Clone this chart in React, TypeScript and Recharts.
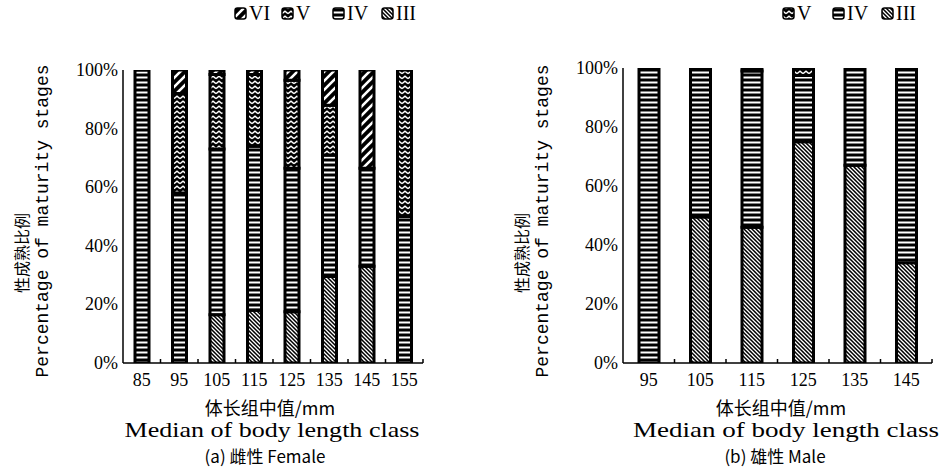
import React from 'react';
import { BarChart, Bar, XAxis, YAxis } from 'recharts';

// ---------- data ----------
const femaleLengths = ['85', '95', '105', '115', '125', '135', '145', '155'];
const femaleStageIII = [0, 0, 16.5, 18, 17.5, 29.5, 33, 0];
const femaleStageIV = [100, 58, 56.5, 56, 49, 41.5, 33.5, 50];
const femaleStageV = [0, 34, 25.5, 24.5, 30, 17, 0, 50];
const femaleStageVI = [0, 8, 1.5, 1.5, 3.5, 12, 33.5, 0];

const maleLengths = ['95', '105', '115', '125', '135', '145'];
const maleStageIII = [0, 49.5, 46, 75, 67, 34];
const maleStageIV = [100, 50.5, 53, 22.5, 33, 66];
const maleStageV = [0, 0, 1, 2.5, 0, 0];

const percentTicks = [0, 20, 40, 60, 80, 100];
const femaleLegend = ['VI', 'V', 'IV', 'III'];
const maleLegend = ['V', 'IV', 'III'];
const femaleStages = ['III', 'IV', 'V', 'VI'];
const maleStages = ['III', 'IV', 'V'];

const femaleData = femaleLengths.map((len, i) => ({
  len,
  III: femaleStageIII[i],
  IV: femaleStageIV[i],
  V: femaleStageV[i],
  VI: femaleStageVI[i],
}));
const maleData = maleLengths.map((len, i) => ({
  len,
  III: maleStageIII[i],
  IV: maleStageIV[i],
  V: maleStageV[i],
}));

const patternId: Record<string, string> = {
  III: 'pat-iii',
  IV: 'pat-iv',
  V: 'pat-v',
  VI: 'pat-vi',
};

const MONO = '"Liberation Mono", "DejaVu Sans Mono", monospace';
const SERIF = '"Liberation Serif", "DejaVu Serif", serif';
const CJK = '"Noto Sans CJK SC", sans-serif';

function Patterns() {
  return (
    <svg width={0} height={0} style={{ position: 'absolute', left: 0, top: 0 }}>
      <defs>
        <pattern id="pat-iii" patternUnits="userSpaceOnUse" width={4} height={4}>
          <rect width={4} height={4} fill="#000" />
          <path d="M-1,-1 L5,5 M-1,3 L1,5 M3,-1 L5,1" stroke="#fff" strokeWidth={1.3} />
        </pattern>
        <pattern id="pat-iv" patternUnits="userSpaceOnUse" width={6} height={5}>
          <rect width={6} height={5} fill="#000" />
          <rect y={1.5} width={6} height={2} fill="#fff" />
        </pattern>
        <pattern id="pat-v" patternUnits="userSpaceOnUse" width={6} height={5}>
          <rect width={6} height={5} fill="#000" />
          <path d="M0,3.6 L3,1.2 L6,3.6" stroke="#fff" strokeWidth={1.4} fill="none" />
        </pattern>
        <pattern id="pat-vi" patternUnits="userSpaceOnUse" width={9} height={9}>
          <rect width={9} height={9} fill="#000" />
          <path d="M-2,11 L11,-2 M-2,2 L2,-2 M7,11 L11,7" stroke="#fff" strokeWidth={2.6} />
        </pattern>
      </defs>
    </svg>
  );
}

const XTick = (props: any) => {
  const { x, y, payload } = props;
  const half = payload && payload.offset ? payload.offset : 0;
  return (
    <g>
      <line x1={x + half} x2={x + half} y1={y} y2={y - 4} stroke="#000" strokeWidth={1.5} />
      <text x={x} y={y + 23} textAnchor="middle" fontFamily={SERIF} fontSize={18} fill="#000">
        {payload.value}
      </text>
    </g>
  );
};

const YTick = (props: any) => {
  const { x, y, payload } = props;
  return (
    <text x={x} y={y + 6} textAnchor="end" fontFamily={SERIF} fontSize={18} fill="#000">
      {payload.value}%
    </text>
  );
};

function StageChart(props: {
  data: any[];
  stages: string[];
  width: number;
  height: number;
  top: number;
  right: number;
  yWidth: number;
  barSize: number;
}) {
  const { data, stages, width, height, top, right, yWidth, barSize } = props;
  return (
    <BarChart
      width={width}
      height={height}
      data={data}
      margin={{ top, right, bottom: 80, left: 0 }}
      barCategoryGap={0}
    >
      <XAxis
        dataKey="len"
        height={30}
        tickLine={false}
        tickSize={0}
        tickMargin={0}
        axisLine={{ stroke: '#000', strokeWidth: 1.5 }}
        tick={<XTick />}
        interval={0}
      />
      <YAxis
        width={yWidth}
        domain={[0, 100]}
        ticks={percentTicks}
        tickLine={false}
        tickSize={0}
        tickMargin={5}
        axisLine={{ stroke: '#000', strokeWidth: 1.5 }}
        tick={<YTick />}
        allowDataOverflow
      />
      {stages.map((s) => (
        <Bar
          key={s}
          dataKey={s}
          stackId="a"
          barSize={barSize}
          fill={`url(#${patternId[s]})`}
          stroke="#000"
          strokeWidth={3}
          isAnimationActive={false}
        />
      ))}
    </BarChart>
  );
}

function LegendItems({ items, xs, y }: { items: string[]; xs: number[]; y: number }) {
  return (
    <g>
      {items.map((s, i) => (
        <g key={s}>
          <rect
            x={xs[i]}
            y={y - 6}
            width={11}
            height={11}
            rx={2.5}
            fill={`url(#${patternId[s]})`}
            stroke="#000"
            strokeWidth={1.5}
          />
          <text x={xs[i] + 14} y={y + 6} fontFamily={SERIF} fontSize={20} fill="#000">
            {s}
          </text>
        </g>
      ))}
    </g>
  );
}

function Titles() {
  return (
    <svg
      width={946}
      height={473}
      style={{ position: 'absolute', left: 0, top: 0, pointerEvents: 'none' }}
    >
      <LegendItems items={femaleLegend} xs={[235, 282, 333, 382]} y={14} />
      <LegendItems items={maleLegend} xs={[783, 833, 882]} y={14} />

      {[0, 500].map((dx, k) => (
        <g key={k}>
          <text
            transform={`translate(${21 + dx},253) rotate(-90)`}
            textAnchor="middle"
            dominantBaseline="central"
            fontFamily={CJK}
            fontSize={16}
            fill="#000"
          >
            性成熟比例
          </text>
          <text
            transform={`translate(${43 + dx},221) rotate(-90)`}
            textAnchor="middle"
            dominantBaseline="central"
            fontFamily={MONO}
            fontSize={18}
            textLength={313}
            lengthAdjust="spacingAndGlyphs"
            fill="#000"
          >
            Percentage of maturity stages
          </text>
        </g>
      ))}

      <text x={270} y={415} textAnchor="middle" fontFamily={CJK} fontSize={18} fill="#000">
        体长组中值/mm
      </text>
      <text x={272} y={437} textAnchor="middle" fontFamily={SERIF} fontSize={21} textLength={295} lengthAdjust="spacingAndGlyphs" fill="#000">
        Median of body length class
      </text>
      <text x={265} y={463} textAnchor="middle" fontFamily={CJK} fontSize={17} fill="#000">
        (a) 雌性 Female
      </text>

      <text x={781} y={415} textAnchor="middle" fontFamily={CJK} fontSize={18} fill="#000">
        体长组中值/mm
      </text>
      <text x={786} y={437} textAnchor="middle" fontFamily={SERIF} fontSize={21} textLength={306} lengthAdjust="spacingAndGlyphs" fill="#000">
        Median of body length class
      </text>
      <text x={775} y={463} textAnchor="middle" fontFamily={CJK} fontSize={17} fill="#000">
        (b) 雄性 Male
      </text>
    </svg>
  );
}

export default function App() {
  return (
    <div
      style={{
        position: 'absolute',
        left: 0,
        top: 0,
        width: 946,
        height: 473,
        background: '#fff',
        overflow: 'hidden',
      }}
    >
      <Patterns />
      <div style={{ position: 'absolute', left: 0, top: 0 }}>
        <StageChart
          data={femaleData}
          stages={femaleStages}
          width={473}
          height={473}
          top={70}
          right={50}
          yWidth={123}
          barSize={14}
        />
      </div>
      <div style={{ position: 'absolute', left: 473, top: 0 }}>
        <StageChart
          data={maleData}
          stages={maleStages}
          width={473}
          height={473}
          top={68}
          right={14}
          yWidth={150}
          barSize={20}
        />
      </div>
      <Titles />
    </div>
  );
}
